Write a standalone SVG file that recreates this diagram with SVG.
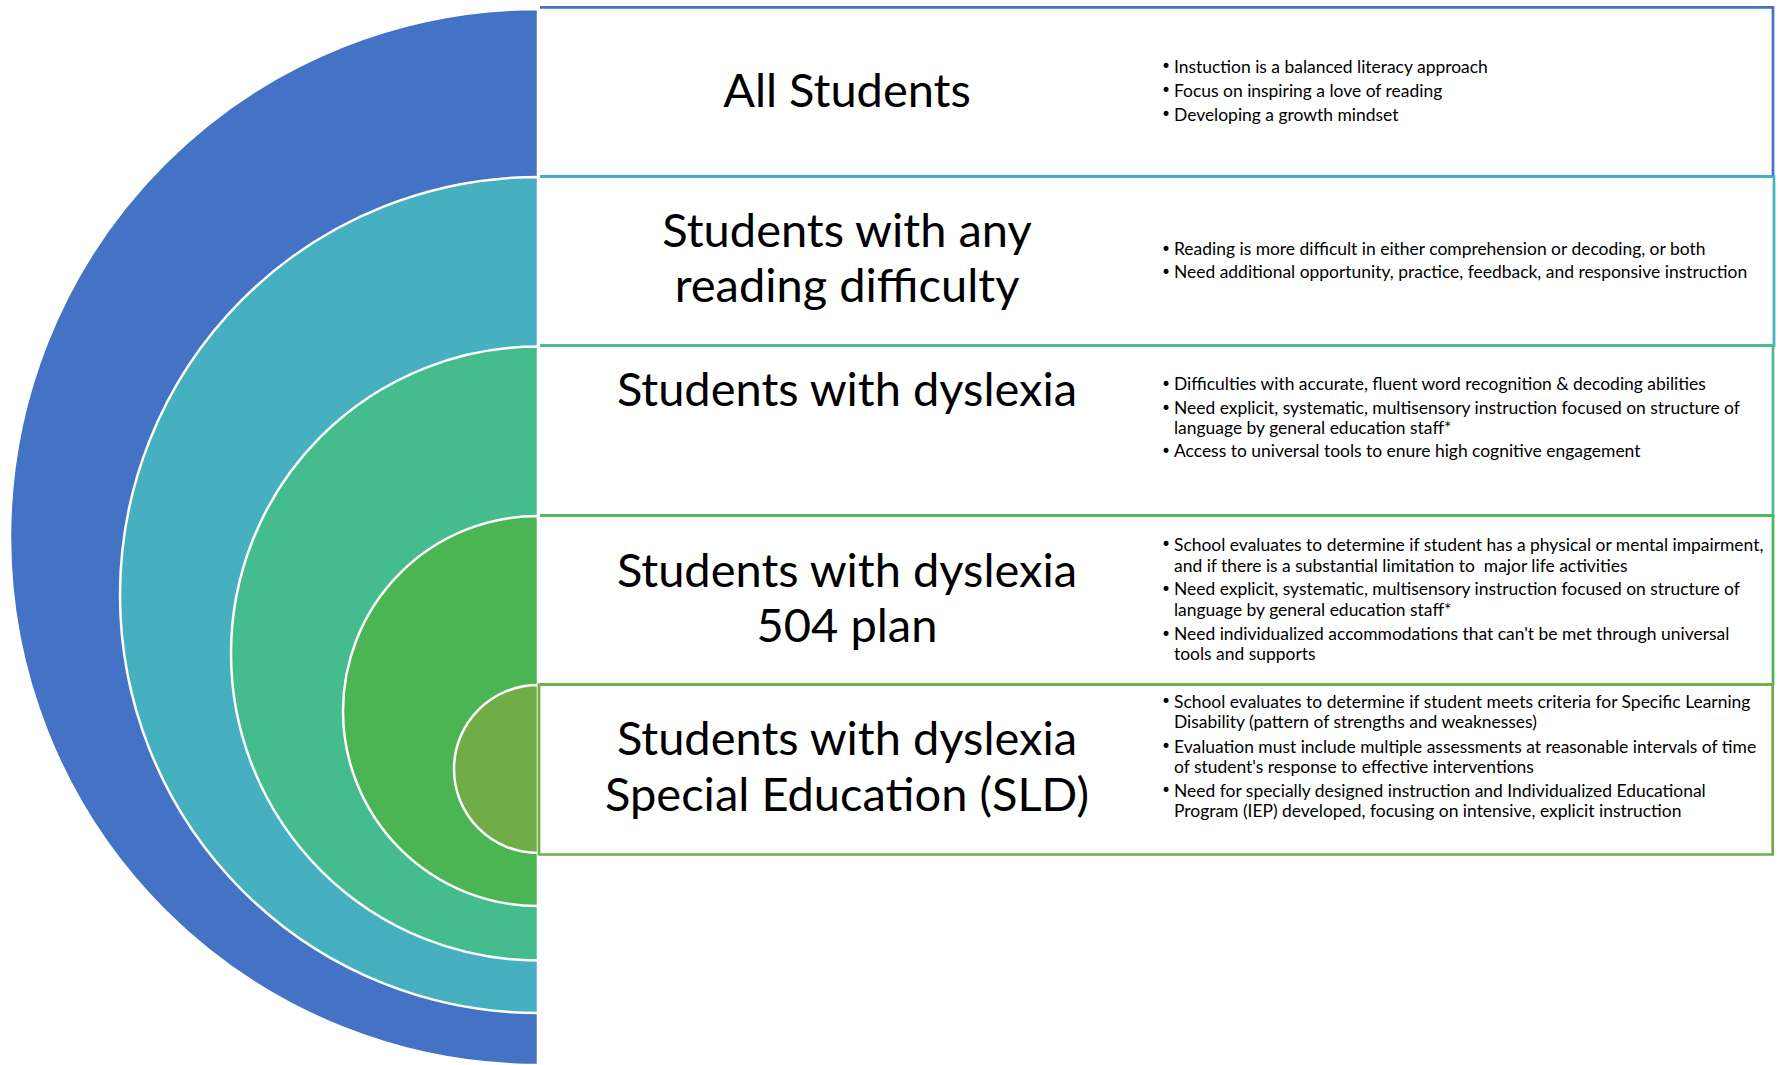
<svg xmlns="http://www.w3.org/2000/svg" width="1779" height="1065" viewBox="0 0 1779 1065">
<style>
.arc{stroke:#FFFFFF;stroke-width:2.5}
.box{fill:none;stroke-width:2.7}
.title{font-family:Lato,"Open Sans","Liberation Sans",sans-serif;font-size:47px;fill:#000000;text-anchor:middle}
.b{font-family:Lato,"Open Sans","Liberation Sans",sans-serif;font-size:17.45px;fill:#000000}
.dot{font-family:"DejaVu Sans","Liberation Sans",sans-serif;font-size:17px;fill:#000000}
</style>
<rect x="0" y="0" width="1779" height="1065" fill="#FFFFFF"/>
<g id="tier-all-students">
<path class="arc" fill="#4472C4" d="M538,9 A528,528 0 0 0 538,1065 Z"/>
<path class="box" stroke="#4472C4" d="M540,7.3 H1773 V176.7 H540"/>
<text class="title" x="847" y="106.7">All Students</text>
<text class="dot" x="1161" y="72.2">•</text><text class="b" x="1174" y="72.7">Instuction is a balanced literacy approach</text>
<text class="dot" x="1161" y="96.2">•</text><text class="b" x="1174" y="96.7">Focus on inspiring a love of reading</text>
<text class="dot" x="1161" y="120.2">•</text><text class="b" x="1174" y="120.7">Developing a growth mindset</text>
</g>
<g id="tier-reading-difficulty">
<path class="arc" fill="#46AFC0" d="M538,177 A418,418 0 0 0 538,1013 Z"/>
<path class="box" stroke="#46AFC0" d="M540,176.7 H1774 V345.7 H540"/>
<text class="title" x="847" y="246.7">Students with any</text>
<text class="title" x="847" y="301.7">reading difficulty</text>
<text class="dot" x="1161" y="254.5">•</text><text class="b" x="1174" y="255">Reading is more difficult in either comprehension or decoding, or both</text>
<text class="dot" x="1161" y="277.8">•</text><text class="b" x="1174" y="278.3">Need additional opportunity, practice, feedback, and responsive instruction</text>
</g>
<g id="tier-dyslexia">
<path class="arc" fill="#45BC8D" d="M538,346.5 A307,307 0 0 0 538,960.5 Z"/>
<path class="box" stroke="#45BC8D" d="M540,345.7 H1773 V515.5 H540"/>
<text class="title" x="847" y="406">Students with dyslexia</text>
<text class="dot" x="1161" y="389.5">•</text><text class="b" x="1174" y="390">Difficulties with accurate, fluent word recognition &amp; decoding abilities</text>
<text class="dot" x="1161" y="413.5">•</text><text class="b" x="1174" y="414">Need explicit, systematic, multisensory instruction focused on structure of</text>
<text class="b" x="1174" y="434.3">language by general education staff*</text>
<text class="dot" x="1161" y="456.8">•</text><text class="b" x="1174" y="457.3">Access to universal tools to enure high cognitive engagement</text>
</g>
<g id="tier-504-plan">
<path class="arc" fill="#4AB552" d="M538,516 A195,195 0 0 0 538,906 Z"/>
<path class="box" stroke="#4AB552" d="M540,515.5 H1773 V684.5 H540"/>
<text class="title" x="847" y="586.7">Students with dyslexia</text>
<text class="title" x="847" y="641.7">504 plan</text>
<text class="dot" x="1161" y="550.2">•</text><text class="b" x="1174" y="550.7">School evaluates to determine if student has a physical or mental impairment,</text>
<text class="b" x="1174" y="571.7" xml:space="preserve">and if there is a substantial limitation to  major life activities</text>
<text class="dot" x="1161" y="594.5">•</text><text class="b" x="1174" y="595">Need explicit, systematic, multisensory instruction focused on structure of</text>
<text class="b" x="1174" y="615.7">language by general education staff*</text>
<text class="dot" x="1161" y="639.5">•</text><text class="b" x="1174" y="640">Need individualized accommodations that can't be met through universal</text>
<text class="b" x="1174" y="660">tools and supports</text>
</g>
<g id="tier-special-education">
<path class="arc" fill="#70AD47" d="M538,685 A84,84 0 0 0 538,853 Z"/>
<path class="box" stroke="#70AD47" d="M539,684.5 H1772.7 V854.5 H539 Z"/>
<text class="title" x="847" y="755">Students with dyslexia</text>
<text class="title" x="847" y="810.7">Special Education (SLD)</text>
<text class="dot" x="1161" y="707.2">•</text><text class="b" x="1174" y="707.7">School evaluates to determine if student meets criteria for Specific Learning</text>
<text class="b" x="1174" y="728.3">Disability (pattern of strengths and weaknesses)</text>
<text class="dot" x="1161" y="752.2">•</text><text class="b" x="1174" y="752.7">Evaluation must include multiple assessments at reasonable intervals of time</text>
<text class="b" x="1174" y="772.7">of student's response to effective interventions</text>
<text class="dot" x="1161" y="796.2">•</text><text class="b" x="1174" y="796.7">Need for specially designed instruction and Individualized Educational</text>
<text class="b" x="1174" y="817.3">Program (IEP) developed, focusing on intensive, explicit instruction</text>
</g>
<g id="connectors"></g>
</svg>
